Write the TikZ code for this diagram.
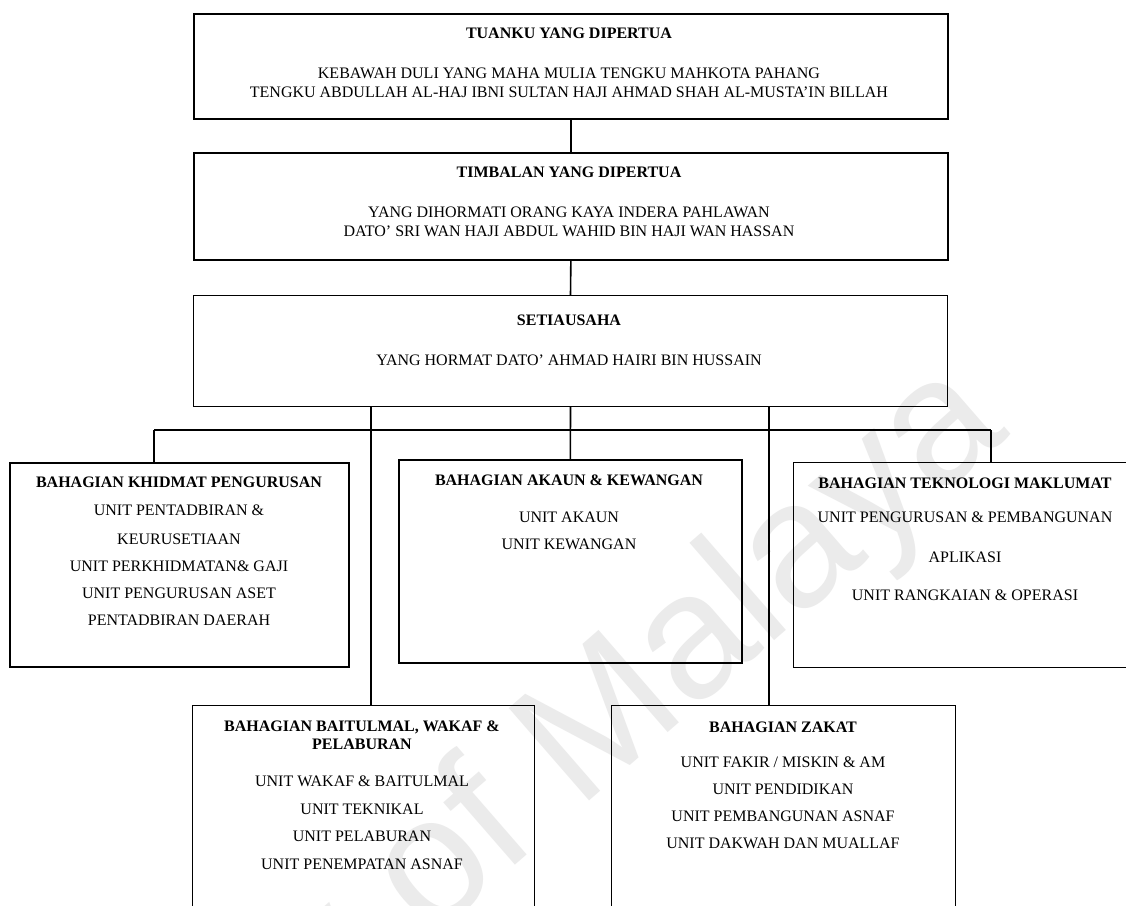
\documentclass[tikz,border=0pt]{standalone}
\usepackage{fontspec}
\setmainfont{Liberation Serif}
\newfontfamily\wmfont{Liberation Sans}
\begin{document}
\begin{tikzpicture}[x=1pt,y=-1pt,
  thickbox/.style={draw, line width=1.7pt, inner sep=0pt, anchor=north west},
  thinbox/.style={draw, line width=1pt, inner sep=0pt, anchor=north west},
  txt/.style={anchor=base, inner sep=0pt, font=\fontsize{16}{19}\selectfont},
  ttl/.style={anchor=base, inner sep=0pt, font=\fontsize{16}{19}\selectfont\bfseries},
  conn/.style={line width=1.6pt},
  wmark/.style={rotate=41, anchor=base east, inner sep=0pt, text=black!8, font=\wmfont\fontsize{178}{178}\selectfont}]
\useasboundingbox (0,0) rectangle (1126,905);
\fill[white] (0,0) rectangle (1126,905);
\clip (0,0) rectangle (1126,905);
% watermark
\node[wmark] (wm) at (1012,434) {University of Malaya};
% boxes
\node[thickbox, minimum width=754pt, minimum height=105pt] (b1) at (193,13) {};
\node[thickbox, minimum width=754pt, minimum height=107pt] (b2) at (193,152) {};
\node[thinbox, minimum width=754pt, minimum height=111pt] (b3) at (193,295) {};
\node[thickbox, minimum width=339pt, minimum height=204pt] (khid) at (9,462) {};
\node[thickbox, minimum width=343pt, minimum height=203pt] (akaun) at (398,459) {};
\node[thinbox, minimum width=344pt, minimum height=205pt] (tek) at (793,462) {};
\node[thinbox, minimum width=342pt, minimum height=260pt] (bm) at (192,705) {};
\node[thinbox, minimum width=344pt, minimum height=260pt] (zak) at (611,705) {};
% texts box 1
\node[ttl] (t1a) at (569,38) {TUANKU YANG DIPERTUA};
\node[txt] (t1b) at (569,78) {KEBAWAH DULI YANG MAHA MULIA TENGKU MAHKOTA PAHANG};
\node[txt] (t1c) at (569,97) {TENGKU ABDULLAH AL-HAJ IBNI SULTAN HAJI AHMAD SHAH AL-MUSTA’IN BILLAH};
% box 2
\node[ttl] (t2a) at (569,177) {TIMBALAN YANG DIPERTUA};
\node[txt] (t2b) at (569,217) {YANG DIHORMATI ORANG KAYA INDERA PAHLAWAN};
\node[txt] (t2c) at (569,236) {DATO’ SRI WAN HAJI ABDUL WAHID BIN HAJI WAN HASSAN};
% box 3
\node[ttl] (t3a) at (569,325) {SETIAUSAHA};
\node[txt] (t3b) at (569,365) {YANG HORMAT DATO’ AHMAD HAIRI BIN HUSSAIN};
% khidmat
\node[ttl] (k0) at (179,487) {BAHAGIAN KHIDMAT PENGURUSAN};
\node[txt] (k1) at (179,515) {UNIT PENTADBIRAN \&};
\node[txt] (k2) at (179,544) {KEURUSETIAAN};
\node[txt] (k3) at (179,571) {UNIT PERKHIDMATAN\& GAJI};
\node[txt] (k4) at (179,598) {UNIT PENGURUSAN ASET};
\node[txt] (k5) at (179,625) {PENTADBIRAN DAERAH};
% akaun
\node[ttl] (a0) at (569,485) {BAHAGIAN AKAUN \& KEWANGAN};
\node[txt] (a1) at (569,522) {UNIT AKAUN};
\node[txt] (a2) at (569,549) {UNIT KEWANGAN};
% teknologi
\node[ttl] (e0) at (965,488) {BAHAGIAN TEKNOLOGI MAKLUMAT};
\node[txt] (e1) at (965,522) {UNIT PENGURUSAN \& PEMBANGUNAN};
\node[txt] (e2) at (965,562) {APLIKASI};
\node[txt] (e3) at (965,600) {UNIT RANGKAIAN \& OPERASI};
% baitulmal
\node[ttl] (m0) at (362,731) {BAHAGIAN BAITULMAL, WAKAF \&};
\node[ttl] (m1) at (362,749) {PELABURAN};
\node[txt] (m2) at (362,786) {UNIT WAKAF \& BAITULMAL};
\node[txt] (m3) at (362,814) {UNIT TEKNIKAL};
\node[txt] (m4) at (362,841) {UNIT PELABURAN};
\node[txt] (m5) at (362,869) {UNIT PENEMPATAN ASNAF};
% zakat
\node[ttl] (z0) at (783,732) {BAHAGIAN ZAKAT};
\node[txt] (z1) at (783,767) {UNIT FAKIR / MISKIN \& AM};
\node[txt] (z2) at (783,794) {UNIT PENDIDIKAN};
\node[txt] (z3) at (783,821) {UNIT PEMBANGUNAN ASNAF};
\node[txt] (z4) at (783,848) {UNIT DAKWAH DAN MUALLAF};
% connectors
\coordinate (busL) at (154,430);
\coordinate (busR) at (991,430);
\coordinate (dropL) at (371,406);
\coordinate (dropR) at (769,406);
\draw[conn] (b1.south) -- (b2.north);
\draw[conn] (b2.south) -- (b3.north);
\draw[conn] (b3.south) -- (akaun.north);
\draw[conn] (busL) -- (busR);
\draw[conn] (busL) -- (busL |- khid.north);
\draw[conn] (busR) -- (busR |- tek.north);
\draw[conn] (dropL) -- (dropL |- bm.north);
\draw[conn] (dropR) -- (dropR |- zak.north);
\end{tikzpicture}
\end{document}
